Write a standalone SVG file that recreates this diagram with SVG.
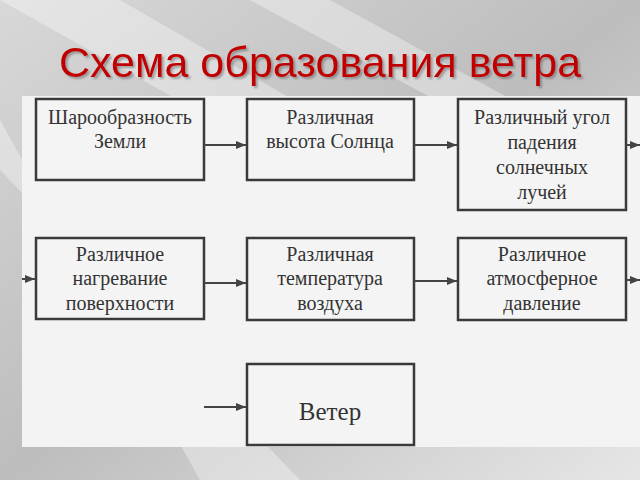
<svg xmlns="http://www.w3.org/2000/svg" width="640" height="480" viewBox="0 0 640 480">
<defs>
<linearGradient id="bg" x1="0" y1="0" x2="1" y2="1">
<stop offset="0" stop-color="#d8d8d8"/><stop offset="0.5" stop-color="#bdbdbd"/><stop offset="1" stop-color="#e6e6e6"/>
</linearGradient>
<filter id="sh" x="-10%" y="-30%" width="120%" height="160%"><feDropShadow dx="2" dy="2" stdDeviation="1" flood-color="#555" flood-opacity="0.5"/></filter>
<marker id="ah" viewBox="0 0 10 10" refX="10" refY="5" markerWidth="10" markerHeight="10" markerUnits="userSpaceOnUse" orient="auto"><path d="M0,1 L10,5 L0,9 Z" fill="#444"/></marker>
</defs>
<style>
.box{fill:#f4f4f4;stroke:#3a3a3a;stroke-width:2.5}
.t{font-family:"Liberation Serif",serif;font-size:20px;fill:#333;text-anchor:middle}
.c line{stroke:#444;stroke-width:2;marker-end:url(#ah)}
</style>
<rect width="640" height="480" fill="url(#bg)"/>
<g fill="#fff" opacity="0.35">
<polygon points="0,0 120,0 640,300 640,360"/>
<polygon points="250,0 330,0 640,170 640,210"/>
<polygon points="0,120 0,170 300,480 200,480"/>
</g>
<text x="320" y="77" font-family="Liberation Sans,Arial,sans-serif" font-size="43" fill="#c00000" text-anchor="middle" filter="url(#sh)">Схема образования ветра</text>
<rect x="22" y="96" width="618" height="351" fill="#f3f3f3"/>
<g id="n1"><rect class="box" x="36" y="99" width="168" height="81"/><text class="t" x="120" y="124">Шарообразность</text><text class="t" x="120" y="148">Земли</text></g>
<g id="n2"><rect class="box" x="247" y="99" width="167" height="81"/><text class="t" x="330" y="124">Различная</text><text class="t" x="330" y="148">высота Солнца</text></g>
<g id="n3"><rect class="box" x="458" y="99" width="168" height="111"/><text class="t" x="542" y="124">Различный угол</text><text class="t" x="542" y="149">падения</text><text class="t" x="542" y="174">солнечных</text><text class="t" x="542" y="199">лучей</text></g>
<g id="n4"><rect class="box" x="36" y="238" width="168" height="81"/><text class="t" x="120" y="261">Различное</text><text class="t" x="120" y="285">нагревание</text><text class="t" x="120" y="310">поверхности</text></g>
<g id="n5"><rect class="box" x="247" y="238" width="167" height="82"/><text class="t" x="330" y="261">Различная</text><text class="t" x="330" y="285">температура</text><text class="t" x="330" y="310">воздуха</text></g>
<g id="n6"><rect class="box" x="458" y="238" width="168" height="82"/><text class="t" x="542" y="261">Различное</text><text class="t" x="542" y="285">атмосферное</text><text class="t" x="542" y="310">давление</text></g>
<g id="n7"><rect class="box" x="247" y="364" width="167" height="81"/><text class="t" x="330" y="420" style="font-size:25px">Ветер</text></g>
<g class="c">
<line x1="204" y1="145" x2="246" y2="145"/>
<line x1="414" y1="145" x2="457" y2="145"/>
<line x1="626" y1="145" x2="640" y2="145"/>
<line x1="22" y1="279" x2="35" y2="279"/>
<line x1="204" y1="283" x2="246" y2="283"/>
<line x1="414" y1="281" x2="457" y2="281"/>
<line x1="626" y1="280" x2="640" y2="280"/>
<line x1="204" y1="407" x2="246" y2="407"/>
</g>
</svg>
